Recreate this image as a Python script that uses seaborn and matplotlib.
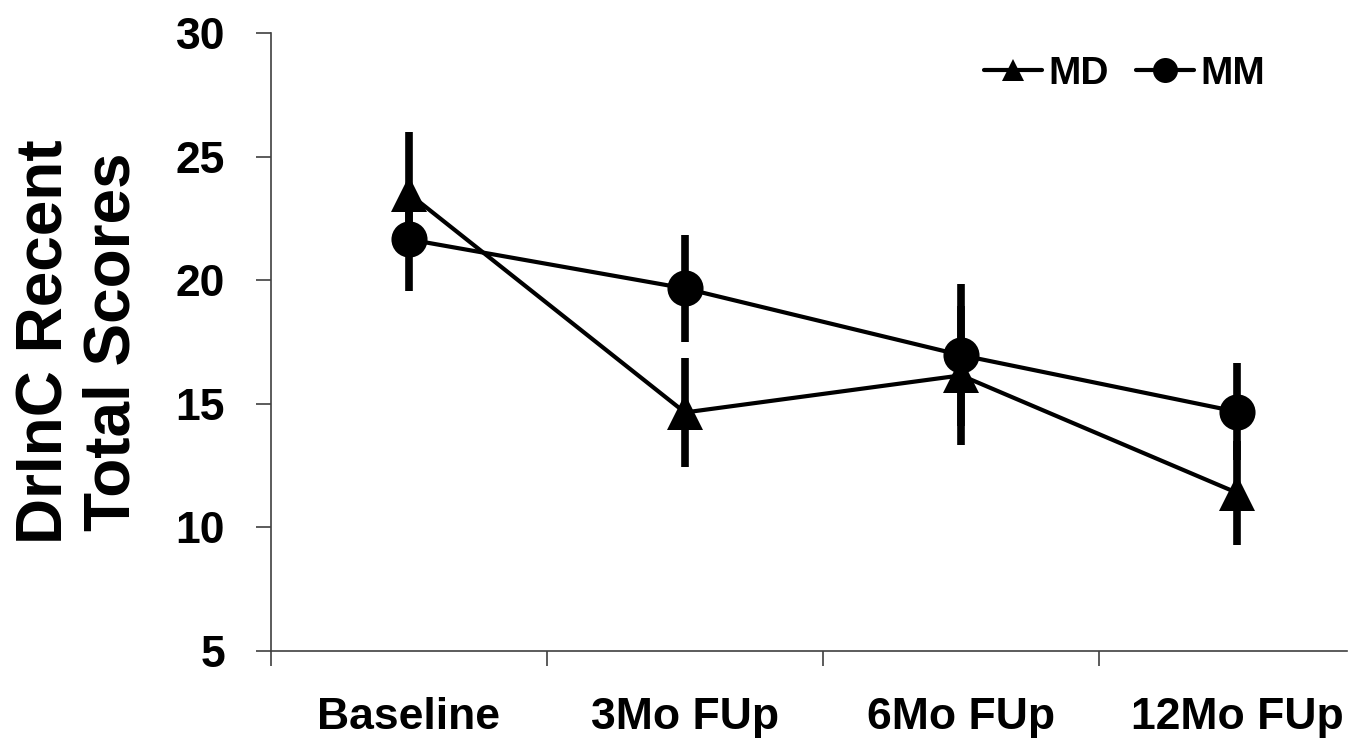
import numpy as np
import pandas as pd
import seaborn as sns
import matplotlib.pyplot as plt

# chart values
visits = ['Baseline', '3Mo FUp', '6Mo FUp', '12Mo FUp']
md_mean = [23.5, 14.65, 16.15, 11.4]
md_err = [2.5, 2.2, 2.8, 2.1]
mm_mean = [21.65, 19.67, 16.97, 14.68]
mm_err = [2.1, 2.15, 2.88, 1.96]

sns.set_style('white')
plt.rcParams['font.family'] = ['Liberation Sans', 'DejaVu Sans']
plt.rcParams['font.weight'] = 'bold'
plt.rcParams['text.color'] = 'black'
plt.rcParams['axes.labelcolor'] = 'black'
plt.rcParams['xtick.labelcolor'] = 'black'
plt.rcParams['ytick.labelcolor'] = 'black'

pos = np.arange(len(visits))
df = pd.DataFrame({
    'pos': np.concatenate([pos, pos]),
    'score': md_mean + mm_mean,
    'err': md_err + mm_err,
    'group': ['MD'] * len(visits) + ['MM'] * len(visits),
})

fig = plt.figure(figsize=(13.65, 7.54), dpi=100)
ax = fig.add_axes([0.1985, 0.1366, 0.8088, 0.8196])

# error bars first, no caps (Excel style)
for _, r in df.iterrows():
    ax.vlines(r['pos'], r['score'] - r['err'], r['score'] + r['err'],
              color='black', linewidth=5.5, zorder=2)

sns.lineplot(data=df, x='pos', y='score', hue='group', style='group',
             markers={'MD': '^', 'MM': 'o'}, dashes=False,
             palette={'MD': 'black', 'MM': 'black'},
             linewidth=3, markersize=26, markeredgewidth=0,
             ax=ax, zorder=3, legend=False)

ax.set_xlim(-0.5, 3.5)
ax.set_ylim(5, 30)
ax.set_yticks(range(5, 31, 5))
ax.set_yticklabels([str(v) for v in range(5, 31, 5)], fontsize=32, fontweight='bold')
ax.set_xticks([-0.5, 0.5, 1.5, 2.5])
ax.set_xticklabels([])
ax.set_xticks(pos, minor=True)
ax.set_xticklabels(visits, minor=True, fontsize=32, fontweight='bold')
ax.tick_params(axis='x', which='major', length=11, width=1.2, color='#404040', direction='out', bottom=True)
ax.tick_params(axis='x', which='minor', length=0, pad=33)
ax.tick_params(axis='y', length=11, width=1.2, color='#404040', direction='out', left=True, pad=22)

sns.despine(ax=ax)
for s in ['left', 'bottom']:
    ax.spines[s].set_color('#404040')
    ax.spines[s].set_linewidth(1.2)
ax.spines['bottom'].set_bounds(-0.5, 3.4)

ax.set_xlabel('')
ax.set_ylabel('DrInC Recent\nTotal Scores', fontsize=46, fontweight='bold',
              linespacing=1.15)
ax.yaxis.set_label_coords(-0.116, 0.5)

# legend
h_md, = ax.plot([], [], color='black', lw=3, marker='^', markersize=16, markeredgewidth=0)
h_mm, = ax.plot([], [], color='black', lw=3, marker='o', markersize=18, markeredgewidth=0)
ax.legend([h_md, h_mm], ['MD', 'MM'], ncol=2, frameon=False,
          loc='upper right', bbox_to_anchor=(0.932, 1.02),
          prop={'size': 28, 'weight': 'bold'},
          handlelength=1.5, handletextpad=0.15, columnspacing=0.7)

fig.savefig('out.png', dpi=100)
